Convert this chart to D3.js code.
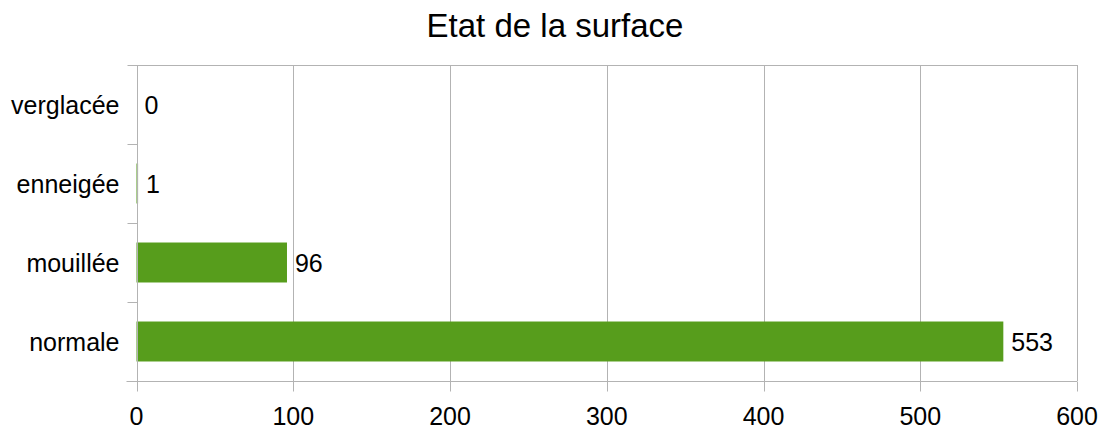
<!DOCTYPE html>
<html>
<head>
<meta charset="utf-8">
<script src="https://cdn.jsdelivr.net/npm/d3@7"></script>
<style>
  body { margin: 0; background: #fff; }
  text { font-family: "Liberation Sans", Arial, sans-serif; fill: #000; }
</style>
</head>
<body>
<div id="chartArea"></div>
<script>
let categories = ['verglacée', 'enneigée', 'mouillée', 'normale']
let values = [0, 1, 96, 553]
let xTicks = [0, 100, 200, 300, 400, 500, 600]

let svgWidth = 1102
let svgHeight = 427
let plotLeft = 136.5, plotRight = 1077, plotTop = 65, plotBottom = 381

let xScale = d3.scaleLinear()
              .domain([0, 600])
              .range([plotLeft, plotRight])

let yScale = d3.scaleBand()
              .domain(categories)
              .range([plotTop, plotBottom])
              .paddingInner(0.494)
              .paddingOuter(0.247)

let bands = d3.scaleBand().domain(categories).range([plotTop, plotBottom])

let svg = d3.select('#chartArea')
    .append('svg')
    .attr('width', svgWidth)
    .attr('height', svgHeight)

// vertical grid
svg.append('g')
  .selectAll('line')
  .data(xTicks)
  .enter()
  .append('line')
  .attr('x1', d => Math.round(xScale(d)) + 0.5)
  .attr('x2', d => Math.round(xScale(d)) + 0.5)
  .attr('y1', plotTop)
  .attr('y2', plotBottom)
  .attr('stroke', '#b3b3b3')
  .attr('stroke-width', 1)

// top border line
svg.append('line')
  .attr('x1', plotLeft).attr('x2', plotRight)
  .attr('y1', plotTop + 0.5).attr('y2', plotTop + 0.5)
  .attr('stroke', '#b3b3b3')

// bars
svg.append('g')
  .selectAll('rect')
  .data(values)
  .enter()
  .append('rect')
  .attr('x', xScale(0))
  .attr('y', (d, i) => yScale(categories[i]))
  .attr('width', d => xScale(d) - xScale(0))
  .attr('height', yScale.bandwidth())
  .attr('fill', '#579d1c')

// value labels
svg.append('g')
  .selectAll('text')
  .data(values)
  .enter()
  .append('text')
  .attr('x', d => xScale(d) + 8)
  .attr('y', (d, i) => yScale(categories[i]) + yScale.bandwidth() / 2)
  .attr('dy', '0.36em')
  .style('font-size', '25px')
  .text(d => d)

// y axis
let yAxis = svg.append('g')
  .attr('transform', `translate(${Math.round(plotLeft) + 0.5},0)`)
yAxis.append('line')
  .attr('y1', plotTop).attr('y2', plotBottom)
  .attr('stroke', '#b3b3b3')
yAxis.selectAll('.tick')
  .data(categories.map(c => bands(c)).concat([plotBottom]))
  .enter()
  .append('line')
  .attr('x1', -10).attr('x2', 0)
  .attr('y1', d => Math.round(d) + 0.5)
  .attr('y2', d => Math.round(d) + 0.5)
  .attr('stroke', '#b3b3b3')
yAxis.selectAll('text')
  .data(categories)
  .enter()
  .append('text')
  .attr('x', -18)
  .attr('y', d => bands(d) + bands.bandwidth() / 2)
  .attr('dy', '0.36em')
  .attr('text-anchor', 'end')
  .style('font-size', '25px')
  .text(d => d)

// x axis
let xAxis = svg.append('g')
  .attr('transform', `translate(0,${plotBottom + 0.5})`)
xAxis.append('line')
  .attr('x1', plotLeft - 10).attr('x2', plotRight)
  .attr('stroke', '#b3b3b3')
xAxis.selectAll('.tick')
  .data(xTicks)
  .enter()
  .append('line')
  .attr('x1', d => Math.round(xScale(d)) + 0.5)
  .attr('x2', d => Math.round(xScale(d)) + 0.5)
  .attr('y1', 0).attr('y2', 10)
  .attr('stroke', '#b3b3b3')
xAxis.selectAll('text')
  .data(xTicks)
  .enter()
  .append('text')
  .attr('x', d => xScale(d))
  .attr('y', 43)
  .attr('text-anchor', 'middle')
  .style('font-size', '25px')
  .text(d => d)

// title
svg.append('text')
  .attr('x', 555)
  .attr('y', 37)
  .attr('text-anchor', 'middle')
  .style('font-size', '33px')
  .text('Etat de la surface')
</script>
</body>
</html>
